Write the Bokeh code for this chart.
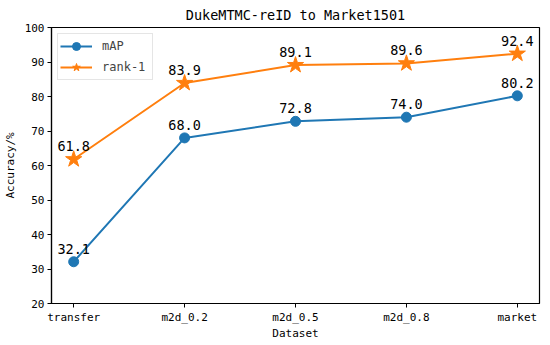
from bokeh.plotting import figure
from bokeh.models import Range1d, FixedTicker, Legend, LegendItem
from bokeh.embed import file_html
from bokeh.resources import INLINE

categories = ["transfer", "m2d_0.2", "m2d_0.5", "m2d_0.8", "market"]
map_vals = [32.1, 68.0, 72.8, 74.0, 80.2]
rank1_vals = [61.8, 83.9, 89.1, 89.6, 92.4]
y_ticks = [20, 30, 40, 50, 60, 70, 80, 90, 100]

FONT = "DejaVu Sans Mono"
BLUE = "#1f77b4"
ORANGE = "#ff7f0e"

xs = list(range(len(categories)))

p = figure(frame_width=488, frame_height=276, output_backend="svg", toolbar_location=None,
           x_range=Range1d(-0.2, len(categories) - 1 + 0.2),
           y_range=Range1d(20, 100),
           min_border_left=44, min_border_right=2, min_border_top=20, min_border_bottom=0)

p.title.text = "DukeMTMC-reID to Market1501"
p.title.align = "center"
p.title.text_font = FONT
p.title.text_font_size = "13.5px"
p.title.text_font_style = "normal"
p.title.text_color = "black"
p.title.standoff = 9

p.grid.visible = False
p.outline_line_color = "black"
p.outline_line_width = 1.2
p.background_fill_color = "white"
p.border_fill_color = "white"

for ax in (p.xaxis[0], p.yaxis[0]):
    ax.axis_line_color = "black"
    ax.axis_line_width = 1.2
    ax.major_tick_out = 4
    ax.major_tick_in = 0
    ax.minor_tick_line_color = None
    ax.major_label_text_font = FONT
    ax.major_label_text_font_size = "11px"
    ax.major_label_text_color = "black"
    ax.axis_label_text_font = FONT
    ax.axis_label_text_font_size = "11px"
    ax.axis_label_text_font_style = "normal"
    ax.axis_label_text_color = "black"

p.xaxis.ticker = FixedTicker(ticks=xs)
p.xaxis.major_label_overrides = {i: c for i, c in enumerate(categories)}
p.yaxis.ticker = FixedTicker(ticks=y_ticks)
p.xaxis.axis_label = "Dataset"
p.yaxis.axis_label = "Accuracy/%"
p.xaxis.major_label_standoff = 3
p.xaxis.axis_label_standoff = 0
p.yaxis.major_label_standoff = 3
p.yaxis.axis_label_standoff = 5

l1 = p.line(xs, map_vals, line_color=BLUE, line_width=2)
s1 = p.scatter(xs, map_vals, marker="circle", size=10, fill_color=BLUE, line_color=BLUE)
l2 = p.line(xs, rank1_vals, line_color=ORANGE, line_width=2)
s2 = p.scatter(xs, rank1_vals, marker="star", size=17, fill_color=ORANGE, line_color=ORANGE)

for vals in (map_vals, rank1_vals):
    p.text(xs, vals, text=[f"{v:.1f}" for v in vals], text_align="center",
           text_baseline="bottom", y_offset=-8, text_font_size="13.5px",
           text_font={"value": FONT}, text_color="black")

legend = Legend(items=[LegendItem(label="mAP", renderers=[l1, s1]),
                       LegendItem(label="rank-1", renderers=[l2, s2])],
                location="top_left", label_text_font=FONT, label_text_font_size="12px",
                glyph_width=32, glyph_height=20, label_height=20, label_width=48,
                spacing=1, padding=2, margin=6, label_standoff=10,
                border_line_color="#cccccc", border_line_width=1,
                background_fill_alpha=0.8)
p.add_layout(legend)

open("out.html", "w").write(file_html(p, INLINE))
